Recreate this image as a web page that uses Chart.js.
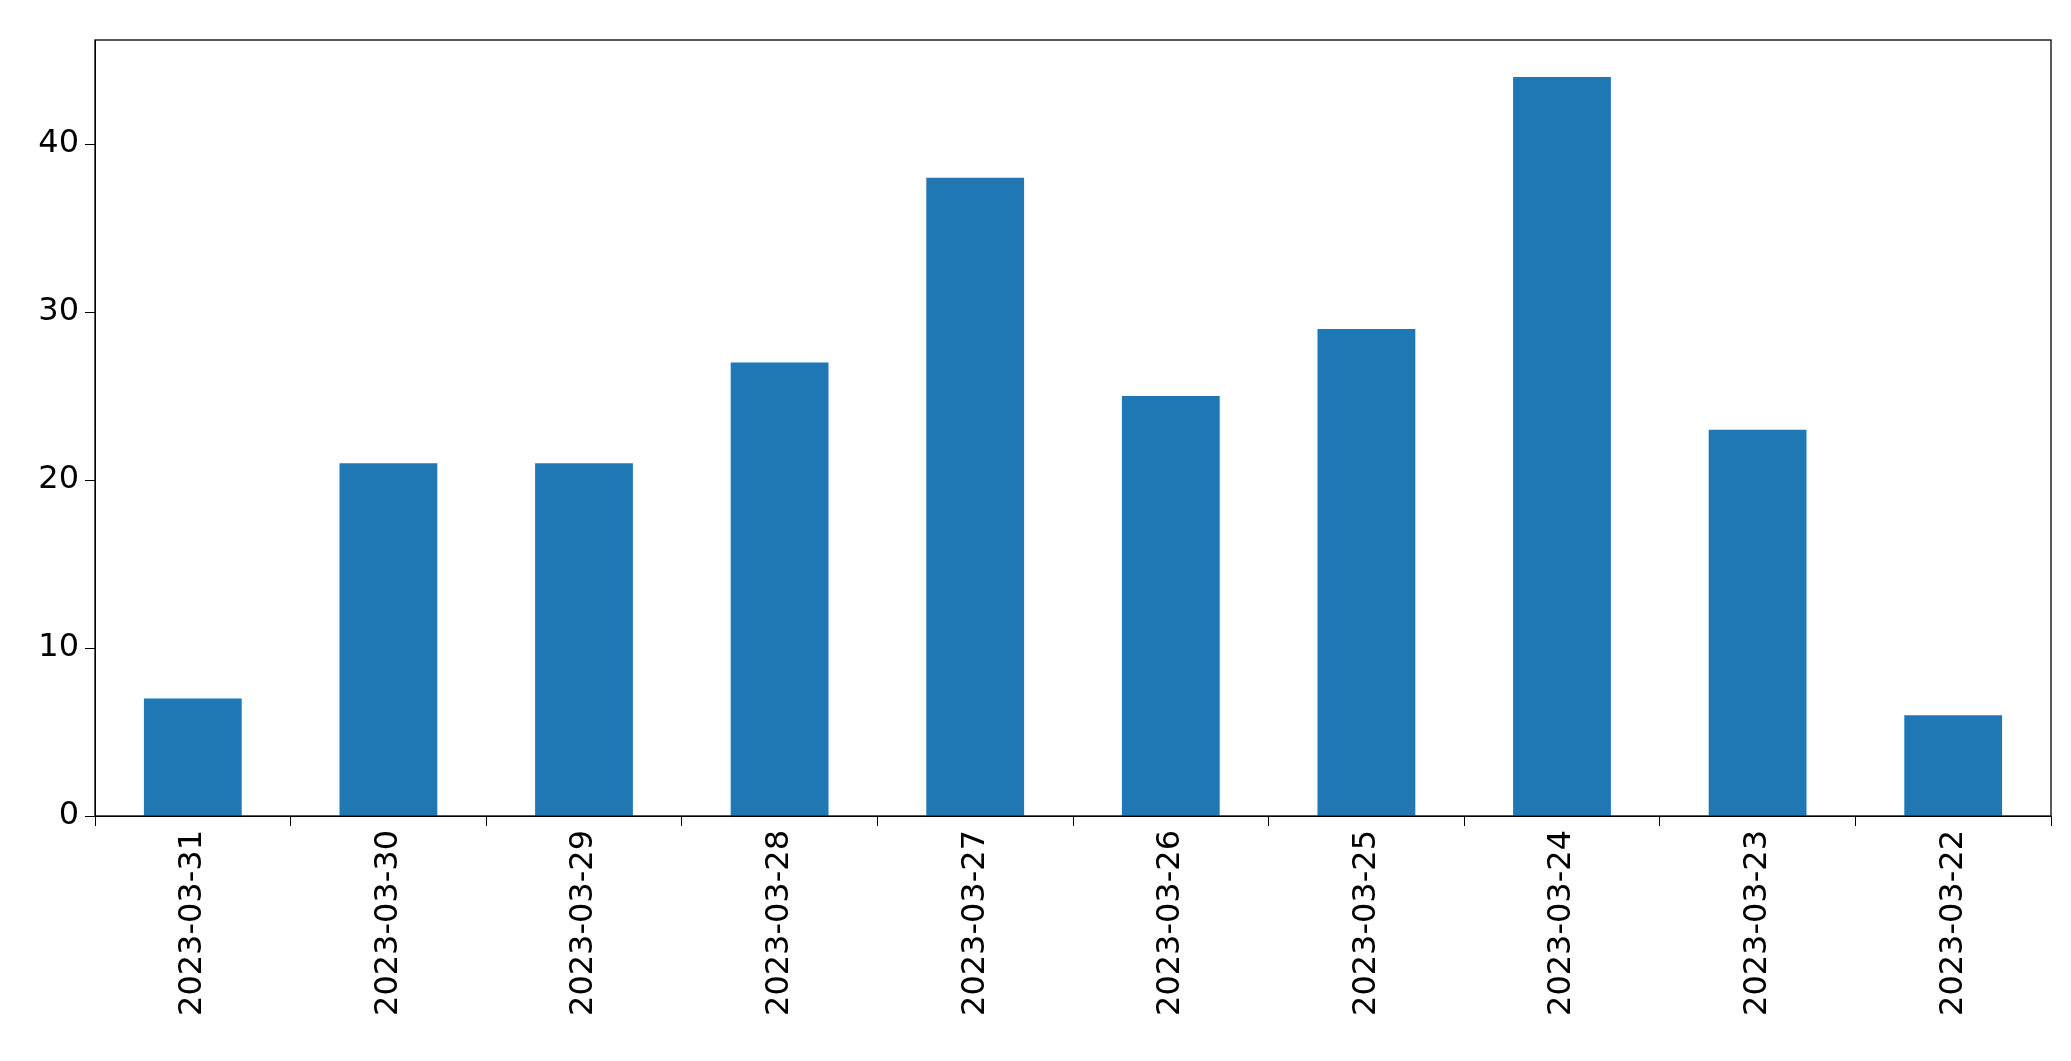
<!DOCTYPE html>
<html>
<head>
<meta charset="utf-8">
<script src="https://cdn.jsdelivr.net/npm/chart.js@4"></script>
<style>
html,body{margin:0;padding:0;background:#fff}
#wrap{width:2071px;height:1061px}
</style>
</head>
<body>
<div id="wrap"><canvas id="chart"></canvas></div>
<script>
const labels=["2023-03-31","2023-03-30","2023-03-29","2023-03-28","2023-03-27","2023-03-26","2023-03-25","2023-03-24","2023-03-23","2023-03-22"];
const counts=[7,21,21,27,38,25,29,44,23,6];
const yTicks=[0,10,20,30,40];

const frame={
id:"frame",
afterDraw(c){
const a=c.chartArea,x=c.ctx;
x.save();x.strokeStyle="#000";x.lineWidth=1.3;
x.strokeRect(a.left,a.top,a.right-a.left,a.bottom-a.top);
x.restore();
}
};

const font={family:"DejaVu Sans",size:32};
new Chart(document.getElementById("chart"),{
type:"bar",
data:{labels:labels,datasets:[{data:counts,backgroundColor:"#1f77b4",barPercentage:0.5,categoryPercentage:1}]},
options:{
responsive:true,maintainAspectRatio:false,animation:false,
layout:{padding:{top:40,right:20,left:0,bottom:0}},
plugins:{legend:{display:false},tooltip:{enabled:false}},
scales:{
x:{
grid:{drawOnChartArea:false,drawTicks:true,tickLength:10,color:"#000"},
border:{color:"#000"},
ticks:{color:"#000",font:font,minRotation:90,maxRotation:90,autoSkip:false,padding:4},
afterFit(s){s.height=1061-816-0;}
},
y:{
min:0,max:46.2,
grid:{drawOnChartArea:false,drawTicks:true,tickLength:10,color:"#000"},
border:{color:"#000"},
afterBuildTicks(s){s.ticks=yTicks.map(v=>({value:v}));},
ticks:{color:"#000",font:font,padding:6},
afterFit(s){s.width=95;}
}
}
},
plugins:[frame]
});
</script>
</body>
</html>
